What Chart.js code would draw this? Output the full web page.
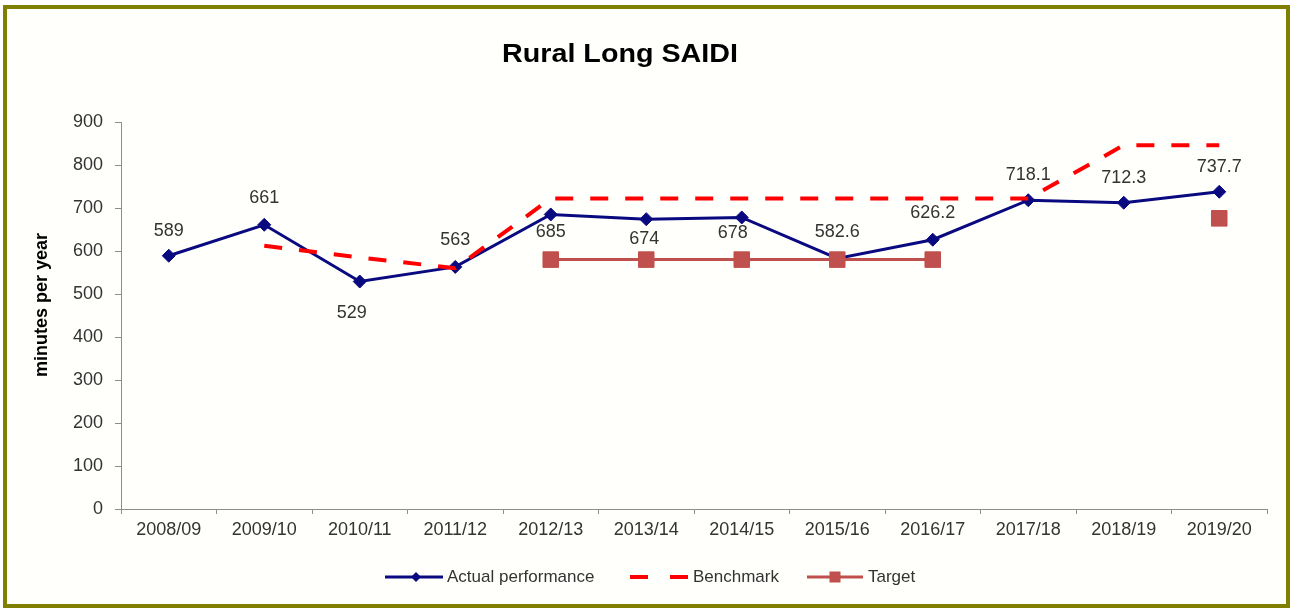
<!DOCTYPE html>
<html>
<head>
<meta charset="utf-8">
<script src="https://cdn.jsdelivr.net/npm/chart.js@4.4.1/dist/chart.umd.min.js"></script>
<style>
html,body{margin:0;padding:0;background:#ffffff;}
#wrap{position:relative;width:1290px;height:608px;overflow:hidden;}
#frame{position:absolute;left:3px;top:5px;width:1287px;height:603px;box-sizing:border-box;border:4px solid #7f7f00;background:#fffffc;}
#c{position:absolute;left:0;top:0;}
</style>
</head>
<body>
<div id="wrap">
  <div id="frame"></div>
  <canvas id="c" width="1290" height="608"></canvas>
</div>
<script>
// ---- data ----
const chartTitle = 'Rural Long SAIDI';
const yAxisTitle = 'minutes per year';
const categories = ['2008/09','2009/10','2010/11','2011/12','2012/13','2013/14','2014/15','2015/16','2016/17','2017/18','2018/19','2019/20'];
const actualPerformance = [589, 661, 529, 563, 685, 674, 678, 582.6, 626.2, 718.1, 712.3, 737.7];
const benchmark = [null, 612, 585, 560, 722, 722, 722, 722, 722, 722, 846, 846];
const target = [null, null, null, null, 580, 580, 580, 580, 580, null, null, 676];
const yTicks = [0, 100, 200, 300, 400, 500, 600, 700, 800, 900];
const seriesNames = ['Actual performance', 'Benchmark', 'Target'];

// ---- styles ----
const FONT = '"Liberation Sans", Arial, Helvetica, sans-serif';
const NAVY = '#0a0a80';
const RED = '#ff0000';
const TARGET_COL = '#c0504d';
const TEXT_COL = '#333333';
const AXIS_COL = '#8c8c8c';

// label offsets (dx, dy) relative to each actual-performance point
const labelOffsets = [[0,-25],[0,-27],[-8,32],[0,-27],[0,18],[-2,20],[-9,16],[0,-26],[0,-27],[0,-25],[0,-25],[0,-25]];

function fmt(v){ return String(v); }

const decor = {
  id: 'decor',
  afterDraw(chart) {
    const ctx = chart.ctx;
    // title
    ctx.save();
    ctx.fillStyle = '#000';
    ctx.font = 'bold 26px ' + FONT;
    ctx.textAlign = 'center';
    ctx.textBaseline = 'middle';
    const tw = ctx.measureText(chartTitle).width;
    ctx.translate(620, 55);
    ctx.scale(236 / tw, 1);
    ctx.fillText(chartTitle, 0, 0);
    ctx.restore();

    // y axis title
    ctx.save();
    ctx.fillStyle = '#000';
    ctx.font = 'bold 18px ' + FONT;
    ctx.textAlign = 'center';
    ctx.textBaseline = 'middle';
    ctx.translate(42, 305);
    ctx.rotate(-Math.PI / 2);
    ctx.fillText(yAxisTitle, 0, 0);
    ctx.restore();

    // data labels
    const meta = chart.getDatasetMeta(0);
    ctx.save();
    ctx.fillStyle = TEXT_COL;
    ctx.font = '18px ' + FONT;
    ctx.textAlign = 'center';
    ctx.textBaseline = 'middle';
    meta.data.forEach((pt, i) => {
      const o = labelOffsets[i];
      ctx.fillText(fmt(actualPerformance[i]), pt.x + o[0], pt.y + o[1]);
    });
    ctx.restore();

    // legend
    const ly = 577;
    ctx.save();
    ctx.lineCap = 'butt';
    // actual
    ctx.strokeStyle = NAVY; ctx.lineWidth = 3;
    ctx.beginPath(); ctx.moveTo(385, ly); ctx.lineTo(443, ly); ctx.stroke();
    ctx.fillStyle = NAVY;
    ctx.beginPath(); ctx.moveTo(416, ly - 5); ctx.lineTo(421, ly); ctx.lineTo(416, ly + 5); ctx.lineTo(411, ly); ctx.closePath(); ctx.fill();
    // benchmark
    ctx.strokeStyle = RED; ctx.lineWidth = 4;
    ctx.beginPath(); ctx.moveTo(630, ly); ctx.lineTo(648, ly); ctx.moveTo(670, ly); ctx.lineTo(688, ly); ctx.stroke();
    // target
    ctx.strokeStyle = TARGET_COL; ctx.lineWidth = 3;
    ctx.beginPath(); ctx.moveTo(807, ly); ctx.lineTo(863, ly); ctx.stroke();
    ctx.fillStyle = TARGET_COL;
    ctx.fillRect(835 - 5.5, ly - 5.5, 11, 11);
    // texts
    ctx.fillStyle = TEXT_COL;
    ctx.font = '17px ' + FONT;
    ctx.textAlign = 'left';
    ctx.textBaseline = 'middle';
    ctx.fillText(seriesNames[0], 447, ly);
    ctx.fillText(seriesNames[1], 693, ly);
    ctx.fillText(seriesNames[2], 868, ly);
    ctx.restore();
  }
};

new Chart(document.getElementById('c'), {
  type: 'line',
  data: {
    labels: categories,
    datasets: [
      {
        label: seriesNames[0],
        data: actualPerformance,
        borderColor: NAVY,
        backgroundColor: NAVY,
        borderWidth: 3,
        pointStyle: 'rectRot',
        pointRadius: 6.5,
        pointBackgroundColor: NAVY,
        pointBorderColor: NAVY,
        pointBorderWidth: 1,
        tension: 0,
        order: 3
      },
      {
        label: seriesNames[1],
        data: benchmark,
        borderColor: RED,
        backgroundColor: RED,
        borderWidth: 4,
        borderDash: [18, 17],
        borderCapStyle: 'butt',
        pointRadius: 0,
        spanGaps: false,
        tension: 0,
        order: 2
      },
      {
        label: seriesNames[2],
        data: target,
        borderColor: TARGET_COL,
        backgroundColor: TARGET_COL,
        borderWidth: 3,
        pointStyle: 'rect',
        pointRadius: 11,
        pointBackgroundColor: TARGET_COL,
        pointBorderColor: TARGET_COL,
        pointBorderWidth: 1,
        spanGaps: false,
        tension: 0,
        order: 1
      }
    ]
  },
  options: {
    responsive: false,
    animation: false,
    devicePixelRatio: 1,
    layout: { padding: { left: 0, right: 23, top: 122, bottom: 0 } },
    plugins: {
      legend: { display: false },
      title: { display: false },
      tooltip: { enabled: false }
    },
    scales: {
      x: {
        type: 'category',
        offset: true,
        grid: { display: true, drawOnChartArea: false, drawTicks: true, tickLength: 5, color: AXIS_COL, offset: true },
        border: { display: true, color: AXIS_COL, width: 1 },
        ticks: { color: TEXT_COL, font: { family: FONT, size: 18 }, padding: 5, maxRotation: 0, autoSkip: false },
        afterFit(s) { s.height = 99; }
      },
      y: {
        min: 0,
        max: 900,
        grid: { display: true, drawOnChartArea: false, drawTicks: true, tickLength: 6, color: AXIS_COL },
        border: { display: true, color: AXIS_COL, width: 1 },
        ticks: { color: TEXT_COL, font: { family: FONT, size: 18 }, padding: 12 },
        afterBuildTicks(s) { s.ticks = yTicks.map(v => ({ value: v })); },
        afterFit(s) { s.width = 121; }
      }
    }
  },
  plugins: [decor]
});
</script>
</body>
</html>
